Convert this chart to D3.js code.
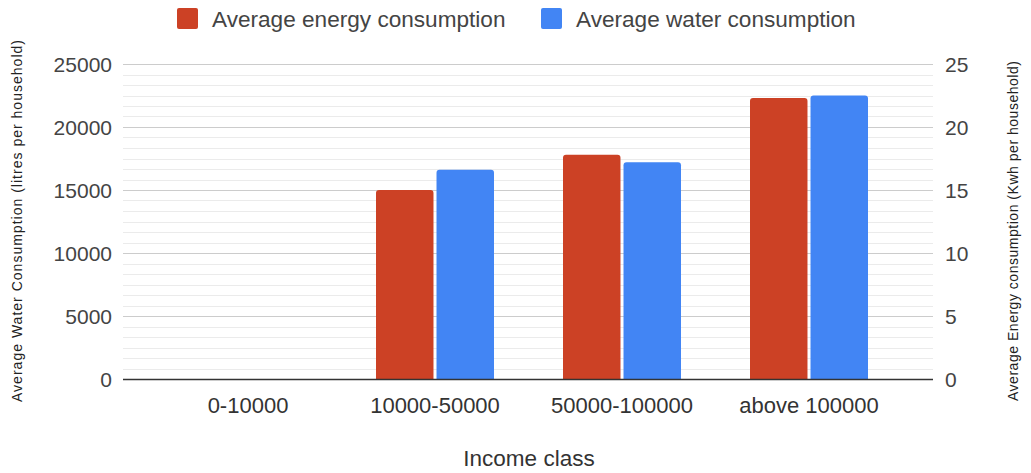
<!DOCTYPE html>
<html>
<head>
<meta charset="utf-8">
<script src="https://cdn.jsdelivr.net/npm/d3@7"></script>
<style>
  html, body { margin: 0; padding: 0; background: #fff; }
  svg { display: block; font-family: "Liberation Sans", Arial, sans-serif; }
</style>
</head>
<body>
<svg id="chart" width="1031" height="473"></svg>
<script>
// Income classes and the two series (energy on the right axis, water on the left)
const categories = ["0-10000", "10000-50000", "50000-100000", "above 100000"];
const energyValues = [0, 15.0, 17.8, 22.3];        // Kwh per household
const waterValues = [0, 16600, 17200, 22500];      // litres per household
const waterTicks = [0, 5000, 10000, 15000, 20000, 25000];
const energyTicks = [0, 5, 10, 15, 20, 25];
const seriesNames = ["Average energy consumption", "Average water consumption"];
const seriesColors = ["#cc4125", "#4285f4"];

const svg = d3.select("#chart");
const plot = { left: 123, right: 933, top: 64, bottom: 379 };

const yWater = d3.scaleLinear().domain([0, 25000]).range([plot.bottom, plot.top]);
const yEnergy = d3.scaleLinear().domain([0, 25]).range([plot.bottom, plot.top]);

const x0 = d3.scaleBand().domain(categories).range([154.5, 902.5]).paddingInner(0).paddingOuter(0);
const groupWidth = 118;
const x1 = d3.scaleBand().domain([0, 1]).range([-groupWidth / 2, groupWidth / 2]).paddingInner(0.05);

// Minor grid (six steps per major step)
const minorTicks = d3.range(0, 25000 + 1, 5000 / 6).filter(v => Math.abs(v / 5000 - Math.round(v / 5000)) > 1e-6);
svg.append("g").selectAll("line").data(minorTicks).join("line")
  .attr("x1", plot.left).attr("x2", plot.right)
  .attr("y1", d => Math.round(yWater(d)) + 0.5).attr("y2", d => Math.round(yWater(d)) + 0.5)
  .attr("stroke", "#ebebeb").attr("stroke-width", 1);

// Major grid
svg.append("g").selectAll("line").data(waterTicks.filter(d => d > 0)).join("line")
  .attr("x1", plot.left).attr("x2", plot.right)
  .attr("y1", d => Math.round(yWater(d)) + 0.5).attr("y2", d => Math.round(yWater(d)) + 0.5)
  .attr("stroke", "#cccccc").attr("stroke-width", 1);

// Left axis (water)
const leftAxis = svg.append("g").attr("transform", `translate(${plot.left - 11},0)`)
  .call(d3.axisLeft(yWater).tickValues(waterTicks).tickSize(0).tickPadding(0).tickFormat(d3.format("d")));
leftAxis.select(".domain").remove();
leftAxis.selectAll("text").attr("font-size", "21px").attr("fill", "#444").attr("dy", "0.35em")
  .style("font-family", "'Liberation Sans', Arial, sans-serif");

// Right axis (energy)
const rightAxis = svg.append("g").attr("transform", `translate(${plot.right + 12},0)`)
  .call(d3.axisRight(yEnergy).tickValues(energyTicks).tickSize(0).tickPadding(0).tickFormat(d3.format("d")));
rightAxis.select(".domain").remove();
rightAxis.selectAll("text").attr("font-size", "21px").attr("fill", "#444").attr("dy", "0.35em")
  .style("font-family", "'Liberation Sans', Arial, sans-serif");

// Bars with slightly rounded tops
function topRoundedRect(x, y, w, h, r) {
  if (h <= 0) return "";
  r = Math.min(r, h, w / 2);
  return `M${x},${y + h}V${y + r}Q${x},${y} ${x + r},${y}H${x + w - r}Q${x + w},${y} ${x + w},${y + r}V${y + h}Z`;
}

const rows = categories.map((c, i) => ({ cat: c, vals: [
  { s: 0, y: yEnergy(energyValues[i]) },
  { s: 1, y: yWater(waterValues[i]) }
]}));

const groups = svg.append("g").selectAll("g").data(rows).join("g")
  .attr("transform", d => `translate(${x0(d.cat) + x0.bandwidth() / 2},0)`);
groups.selectAll("path").data(d => d.vals).join("path")
  .attr("d", d => topRoundedRect(x1(d.s), d.y, x1.bandwidth(), plot.bottom - d.y, 3))
  .attr("fill", d => seriesColors[d.s]);

// Baseline
svg.append("line")
  .attr("x1", plot.left).attr("x2", plot.right)
  .attr("y1", plot.bottom + 0.5).attr("y2", plot.bottom + 0.5)
  .attr("stroke", "#333").attr("stroke-width", 1.5);

// Category axis
const bottomAxis = svg.append("g").attr("transform", `translate(0,${plot.bottom})`)
  .call(d3.axisBottom(x0).tickSize(0).tickPadding(18));
bottomAxis.select(".domain").remove();
bottomAxis.selectAll("text").attr("font-size", "22px").attr("fill", "#333")
  .style("font-family", "'Liberation Sans', Arial, sans-serif");

// Axis titles
svg.append("text").attr("x", 529).attr("y", 466).attr("text-anchor", "middle")
  .attr("font-size", "22.5px").attr("fill", "#333").text("Income class");

svg.append("text").attr("transform", "translate(22,221) rotate(-90)").attr("text-anchor", "middle")
  .attr("font-size", "14px").attr("fill", "#222")
  .attr("textLength", 362).attr("lengthAdjust", "spacing")
  .text("Average Water Consumption (litres per household)");

svg.append("text").attr("transform", "translate(1018,231) rotate(-90)").attr("text-anchor", "middle")
  .attr("font-size", "14px").attr("fill", "#222")
  .attr("textLength", 340).attr("lengthAdjust", "spacing")
  .text("Average Energy consumption (Kwh per household)");

// Legend
const legendItems = [
  { name: seriesNames[0], color: seriesColors[0], x: 177 },
  { name: seriesNames[1], color: seriesColors[1], x: 541 }
];
const lg = svg.append("g").selectAll("g").data(legendItems).join("g")
  .attr("transform", d => `translate(${d.x},8)`);
lg.append("rect").attr("width", 21).attr("height", 21).attr("rx", 2).attr("fill", d => d.color);
lg.append("text").attr("x", 35).attr("y", 11).attr("dy", "0.35em")
  .attr("font-size", "22.6px").attr("fill", "#444").text(d => d.name);
</script>
</body>
</html>
